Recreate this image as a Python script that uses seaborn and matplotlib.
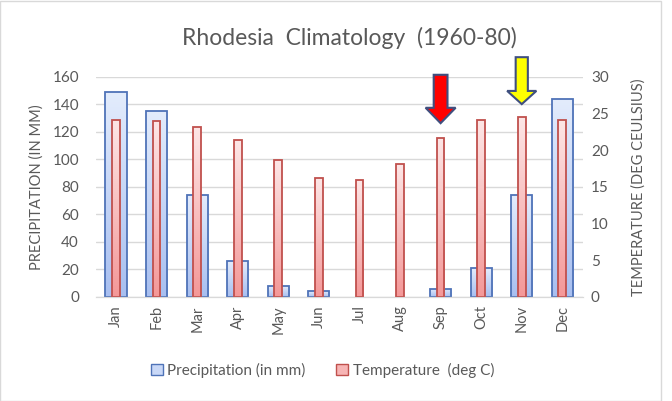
import numpy as np
import pandas as pd
import matplotlib
matplotlib.use('Agg')
import matplotlib.pyplot as plt
import seaborn as sns
from matplotlib.patches import Patch, Polygon, Rectangle
from matplotlib.colors import LinearSegmentedColormap

months = ['Jan', 'Feb', 'Mar', 'Apr', 'May', 'Jun', 'Jul', 'Aug', 'Sep', 'Oct', 'Nov', 'Dec']
precip = [149, 135, 74, 26, 8, 4, 0, 0, 6, 21, 74, 144]
temp = [24.2, 24.0, 23.2, 21.4, 18.7, 16.2, 15.9, 18.2, 21.7, 24.2, 24.5, 24.2]
left_ticks = [0, 20, 40, 60, 80, 100, 120, 140, 160]
right_ticks = [0, 5, 10, 15, 20, 25, 30]

df = pd.DataFrame({'month': months, 'precip': precip, 'temp': temp})

sns.set_style('white')
plt.rcParams['font.family'] = ['Lato', 'DejaVu Sans']
grey = '#595959'

fig = plt.figure(figsize=(6.72, 4.01), dpi=100)
ax = fig.add_axes([0.1424, 0.2594, 0.7246, 0.5486])

sns.barplot(data=df, x='month', y='precip', ax=ax, width=0.52,
            color='#dce7fb', edgecolor='#4f73b8', linewidth=1.3)
ax.set_ylim(0, 160)
ax.set_yticks(left_ticks)
ax.yaxis.grid(True, color='#d9d9d9', linewidth=1)
ax.set_axisbelow(True)

ax2 = ax.twinx()
sns.barplot(data=df, x='month', y='temp', ax=ax2, width=0.19,
            color='#fde0e0', edgecolor='#c0504d', linewidth=1.3)
ax2.set_ylim(0, 30)
ax2.set_yticks(right_ticks)


def gradient_fill(axis, top, bottom):
    cmap = LinearSegmentedColormap.from_list('g', [top, bottom])
    grad = np.linspace(0, 1, 100).reshape(-1, 1)
    xl, yl = axis.get_xlim(), axis.get_ylim()
    for p in list(axis.patches):
        x0, y0 = p.get_x(), p.get_y()
        w, h = p.get_width(), p.get_height()
        if h <= 0:
            p.set_visible(False)
            continue
        im = axis.imshow(grad, cmap=cmap, aspect='auto', origin='upper',
                         extent=[x0, x0 + w, y0, y0 + h], zorder=p.get_zorder() - 0.01)
        im.set_clip_path(p)
        p.set_facecolor('none')
    axis.set_xlim(xl)
    axis.set_ylim(yl)


gradient_fill(ax, '#e3ecfc', '#a8bff0')
gradient_fill(ax2, '#fde6e6', '#f49898')

for a in (ax, ax2):
    for s in ['top', 'left', 'right']:
        a.spines[s].set_visible(False)
    a.spines['bottom'].set_color('#d9d9d9')
    a.tick_params(length=0, labelsize=11, colors=grey)
    a.set_xlabel('')

ax.tick_params(axis='x', rotation=90, labelsize=10.5, pad=6)
ax.tick_params(axis='y', pad=12)
ax2.tick_params(axis='y', pad=6)
ax.set_ylabel('PRECIPITATION (IN MM)', color=grey, fontsize=10.5, labelpad=6)
ax2.set_ylabel('TEMPERATURE (DEG CEULSIUS)', color=grey, fontsize=10.5, labelpad=16)

# arrows pointing at Sep and Nov, drawn in temperature units on the top axes
red_arrow = Polygon([(8 - 0.17, 30.3), (8 + 0.17, 30.3), (8 + 0.17, 25.8), (8 + 0.37, 25.8),
                     (8, 23.7), (8 - 0.37, 25.8), (8 - 0.17, 25.8)],
                    closed=True, facecolor='#ff0000', edgecolor='#3f4f7f', linewidth=1.5,
                    clip_on=False, zorder=5)
yellow_arrow = Polygon([(10 - 0.15, 32.7), (10 + 0.15, 32.7), (10 + 0.15, 28.1), (10 + 0.36, 28.1),
                        (10, 26.3), (10 - 0.36, 28.1), (10 - 0.15, 28.1)],
                       closed=True, facecolor='#ffff00', edgecolor='#3f4f7f', linewidth=1.5,
                       clip_on=False, zorder=5)
ax2.add_patch(red_arrow)
ax2.add_patch(yellow_arrow)

fig.text(0.52, 0.905, 'Rhodesia  Climatology  (1960-80)', ha='center', va='center',
         fontsize=16.5, color=grey)

handles = [Patch(facecolor='#c9d8f7', edgecolor='#4f73b8', label='Precipitation (in mm)'),
           Patch(facecolor='#f7b5b5', edgecolor='#c0504d', label='Temperature  (deg C)')]
fig.legend(handles=handles, loc='center', bbox_to_anchor=(0.48, 0.077), ncol=2,
           frameon=False, fontsize=11, labelcolor=grey, handlelength=0.8,
           handleheight=0.8, handletextpad=0.3, columnspacing=2.0)

fig.patches.append(Rectangle((0, 0), 661 / 672, 1 - 1 / 401, transform=fig.transFigure,
                             fill=False, edgecolor='#d9d9d9', linewidth=1))

fig.savefig('out.png', dpi=100)
